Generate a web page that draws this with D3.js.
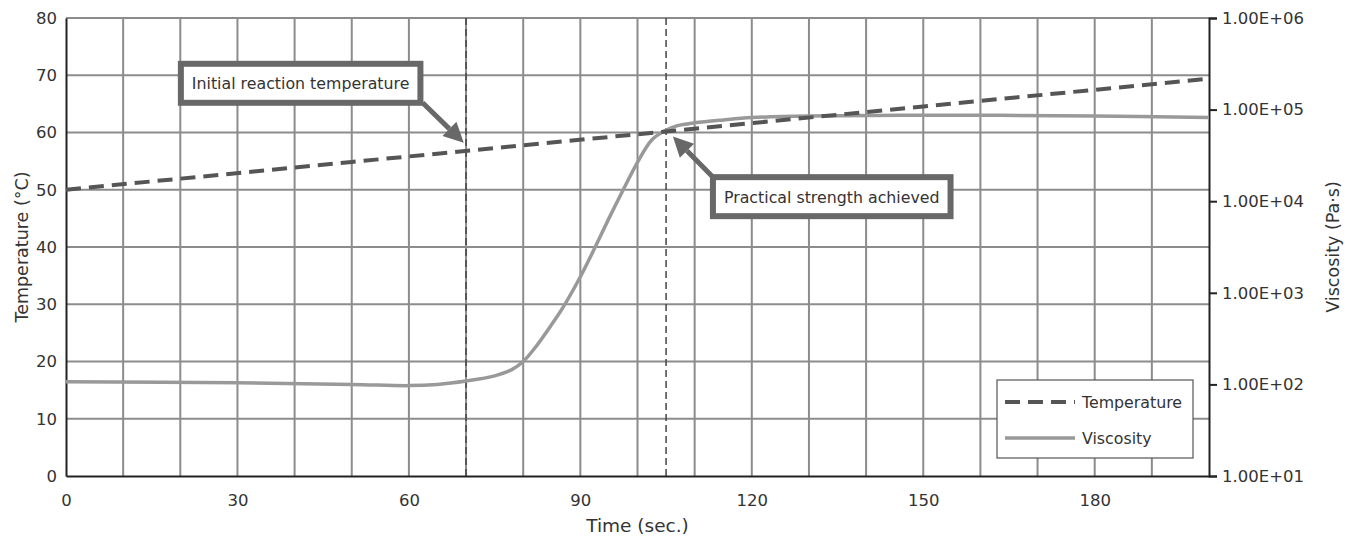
<!DOCTYPE html>
<html>
<head>
<meta charset="utf-8">
<script src="https://cdn.jsdelivr.net/npm/d3@7"></script>
<style>
  body { margin: 0; background: #fff; }
  svg { display: block; font-family: "DejaVu Sans", sans-serif; }
</style>
</head>
<body>
<svg id="chart"></svg>
<script>
// time axis (sec.)
const timeTicks = [0, 30, 60, 90, 120, 150, 180];
const timeGrid = [10, 20, 30, 40, 50, 60, 70, 80, 90, 100, 110, 120, 130, 140, 150, 160, 170, 180, 190];
const tempTicks = [0, 10, 20, 30, 40, 50, 60, 70, 80];
const viscTicks = [1e1, 1e2, 1e3, 1e4, 1e5, 1e6];
const viscTickLabels = ["1.00E+01", "1.00E+02", "1.00E+03", "1.00E+04", "1.00E+05", "1.00E+06"];

// temperature series (°C)
const tempTime = [0, 50, 100, 150, 200];
const tempValues = [50, 54.85, 59.7, 64.55, 69.4];

// viscosity series (Pa·s)
const viscTime = [0, 30, 50, 60, 65, 70, 75, 78, 80, 82, 85, 87, 90, 92.6, 95, 97.5, 100, 102.5, 105, 107, 110, 115, 120, 130, 155, 180, 200];
const viscValues = [107, 104, 100, 97, 100, 109, 124, 145, 178, 248, 453, 698, 1496, 3162, 6494, 13335, 26600, 46650, 59570, 66800, 71800, 77200, 81750, 85100, 87000, 85100, 81750];

// vertical reference lines (sec.)
const markerTimes = [70, 105];

// callouts: box top-left (time, temp), arrow tail and tip (time, temp)
const calloutText = ["Initial reaction temperature", "Practical strength achieved"];
const calloutBox = [[20.1, 72], [113.2, 52.2]];
const calloutTail = [[62.4, 65.2], [113.4, 52.0]];
const calloutTip = [[69.6, 58.2], [106.2, 59.3]];

const legendNames = ["Temperature", "Viscosity"];

const width = 1357, height = 539;
const mLeft = 66, mRight = 1209, mTop = 18, mBottom = 476;

const svg = d3.select("#chart").attr("width", width).attr("height", height);

const x = d3.scaleLinear().domain([0, 200]).range([mLeft, mRight]);
const yT = d3.scaleLinear().domain([0, 80]).range([mBottom, mTop]);
const yV = d3.scaleLog().domain([10, 1e6]).range([mBottom, mTop]);

const gridColor = "#8c8c8c";
const textColor = "#333";

// grid
svg.append("g")
  .selectAll("line")
  .data(timeGrid)
  .enter()
  .append("line")
  .attr("x1", d => x(d)).attr("x2", d => x(d))
  .attr("y1", mTop).attr("y2", mBottom)
  .attr("stroke", gridColor).attr("stroke-width", 2);

svg.append("g")
  .selectAll("line")
  .data(tempTicks.filter(d => d > 0))
  .enter()
  .append("line")
  .attr("x1", mLeft).attr("x2", mRight)
  .attr("y1", d => yT(d)).attr("y2", d => yT(d))
  .attr("stroke", gridColor).attr("stroke-width", 2);

// reference lines
svg.append("g")
  .selectAll("line")
  .data(markerTimes)
  .enter()
  .append("line")
  .attr("x1", d => x(d)).attr("x2", d => x(d))
  .attr("y1", mTop).attr("y2", mBottom)
  .attr("stroke", "#444").attr("stroke-width", 1.5)
  .attr("stroke-dasharray", "7,4");

// axes
const axisL = svg.append("g")
  .attr("transform", `translate(${mLeft},0)`)
  .call(d3.axisLeft(yT).tickValues(tempTicks).tickSize(0).tickPadding(9));

const axisB = svg.append("g")
  .attr("transform", `translate(0,${mBottom})`)
  .call(d3.axisBottom(x).tickValues(timeTicks).tickSize(0).tickPadding(18));

const axisR = svg.append("g")
  .attr("transform", `translate(${mRight},0)`)
  .call(d3.axisRight(yV).tickValues(viscTicks).tickSize(8).tickPadding(5)
    .tickFormat((d, i) => viscTickLabels[i]));

[axisL, axisB, axisR].forEach(g => {
  g.select(".domain").attr("stroke", "#222").attr("stroke-width", 2);
  g.selectAll(".tick line").attr("stroke", "#222").attr("stroke-width", 2);
  g.selectAll(".tick text")
    .attr("fill", textColor)
    .attr("font-size", "16.5px")
    .attr("font-family", "DejaVu Sans, sans-serif");
});

// series
const tempData = tempTime.map((t, i) => [t, tempValues[i]]);
const viscData = viscTime.map((t, i) => [t, viscValues[i]]);

svg.append("path")
  .datum(viscData)
  .attr("fill", "none")
  .attr("stroke", "#999")
  .attr("stroke-width", 3.5)
  .attr("d", d3.line().x(d => x(d[0])).y(d => yV(d[1])).curve(d3.curveCatmullRom.alpha(0.5)));

svg.append("path")
  .datum(tempData)
  .attr("fill", "none")
  .attr("stroke", "#555")
  .attr("stroke-width", 4)
  .attr("stroke-dasharray", "15,8")
  .attr("d", d3.line().x(d => x(d[0])).y(d => yT(d[1])));

// axis titles
svg.append("text")
  .attr("transform", `translate(22,${(mTop + mBottom) / 2}) rotate(-90)`)
  .attr("text-anchor", "middle")
  .attr("dominant-baseline", "central")
  .attr("font-size", "17.5px")
  .attr("fill", textColor)
  .text("Temperature (°C)");

svg.append("text")
  .attr("transform", `translate(1333,${(mTop + mBottom) / 2}) rotate(-90)`)
  .attr("text-anchor", "middle")
  .attr("dominant-baseline", "central")
  .attr("font-size", "17.5px")
  .attr("fill", textColor)
  .text("Viscosity (Pa·s)");

svg.append("text")
  .attr("x", (mLeft + mRight) / 2)
  .attr("y", 532)
  .attr("text-anchor", "middle")
  .attr("font-size", "18.5px")
  .attr("fill", textColor)
  .text("Time (sec.)");

// callouts
const calloutColor = "#686868";
calloutText.forEach((txt, i) => {
  const g = svg.append("g");
  const tail = [x(calloutTail[i][0]), yT(calloutTail[i][1])];
  const tip = [x(calloutTip[i][0]), yT(calloutTip[i][1])];
  const ang = Math.atan2(tip[1] - tail[1], tip[0] - tail[0]);
  const headLen = 20, headW = 10;
  const base = [tip[0] - headLen * Math.cos(ang), tip[1] - headLen * Math.sin(ang)];
  g.append("line")
    .attr("x1", tail[0]).attr("y1", tail[1])
    .attr("x2", base[0]).attr("y2", base[1])
    .attr("stroke", calloutColor).attr("stroke-width", 5);
  g.append("polygon")
    .attr("points", [
      tip,
      [base[0] + headW * Math.sin(ang), base[1] - headW * Math.cos(ang)],
      [base[0] - headW * Math.sin(ang), base[1] + headW * Math.cos(ang)]
    ].map(p => p.join(",")).join(" "))
    .attr("fill", calloutColor);

  const bx = x(calloutBox[i][0]), by = yT(calloutBox[i][1]);
  const rect = g.append("rect")
    .attr("x", bx).attr("y", by)
    .attr("height", 39)
    .attr("fill", "#fff")
    .attr("stroke", calloutColor)
    .attr("stroke-width", 6);
  const label = g.append("text")
    .attr("x", bx + 11)
    .attr("y", by + 20)
    .attr("dominant-baseline", "central")
    .attr("font-size", "15.8px")
    .attr("fill", textColor)
    .text(txt);
  rect.attr("width", label.node().getComputedTextLength() + 22);
});

// legend
const legend = svg.append("g");
legend.append("rect")
  .attr("x", 997).attr("y", 380)
  .attr("width", 196).attr("height", 78)
  .attr("fill", "#fff")
  .attr("stroke", "#555")
  .attr("stroke-width", 1.2);

const legendRows = legend.selectAll("g.row")
  .data(legendNames)
  .enter()
  .append("g")
  .attr("class", "row")
  .attr("transform", (d, i) => `translate(1005,${402 + i * 36})`);

legendRows.append("line")
  .attr("x1", 0).attr("x2", 70)
  .attr("y1", 0).attr("y2", 0)
  .attr("stroke", (d, i) => i === 0 ? "#555" : "#999")
  .attr("stroke-width", (d, i) => i === 0 ? 4 : 3.5)
  .attr("stroke-dasharray", (d, i) => i === 0 ? "15,8" : null);

legendRows.append("text")
  .attr("x", 77)
  .attr("y", 0)
  .attr("dominant-baseline", "central")
  .attr("font-size", "15.8px")
  .attr("fill", textColor)
  .text(d => d);
</script>
</body>
</html>
